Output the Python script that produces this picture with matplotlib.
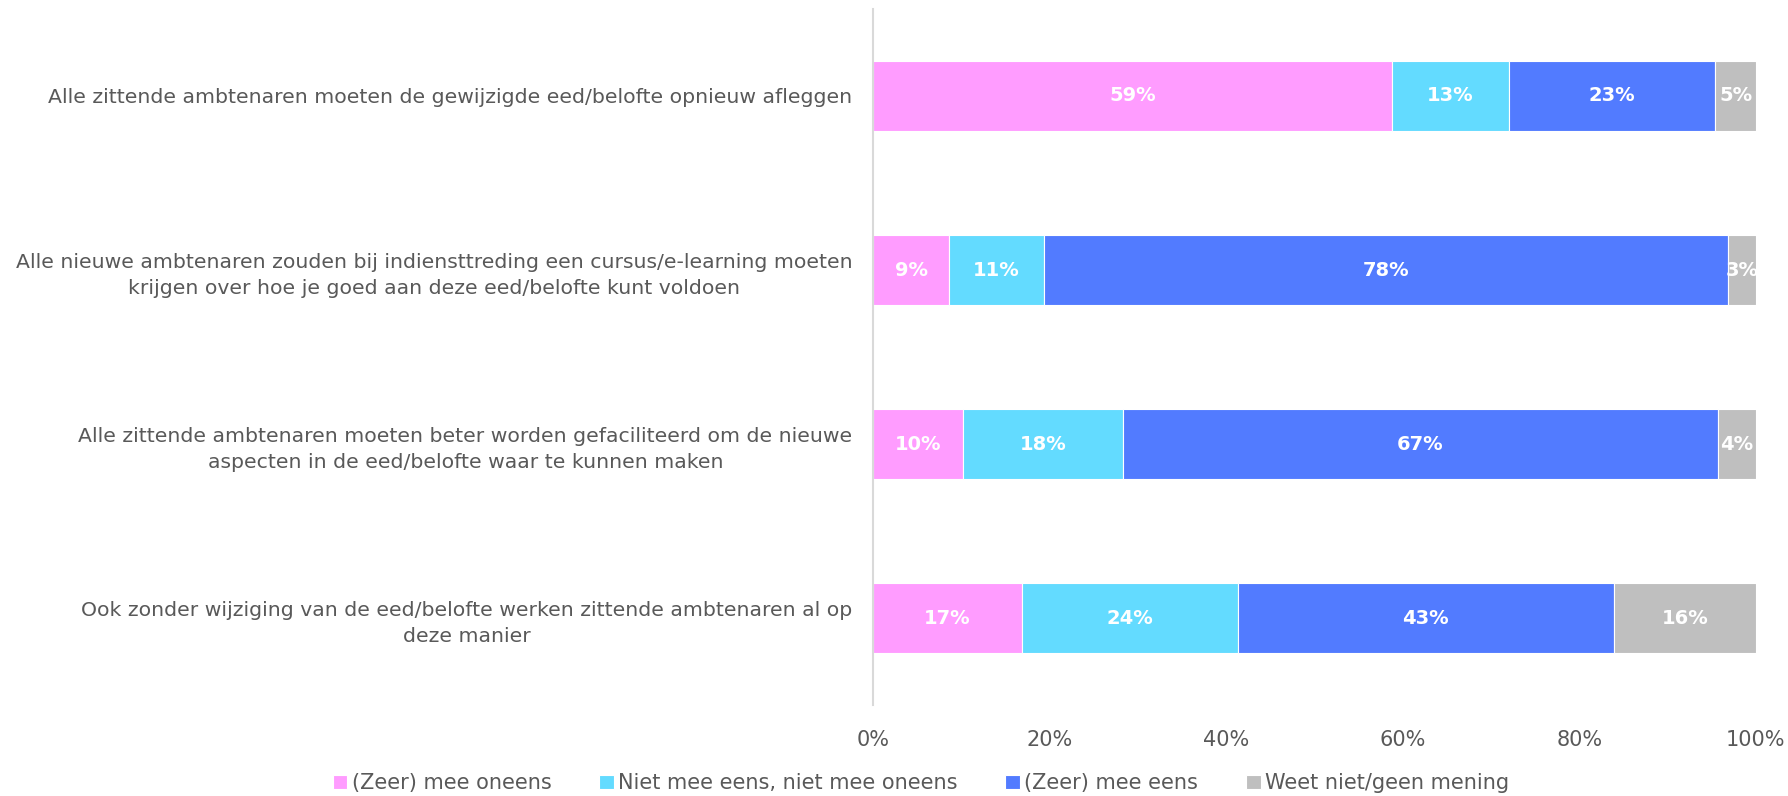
import matplotlib.pyplot as plt
import numpy as np
from matplotlib.ticker import PercentFormatter

# Data (shares in percent)
statements = [
    'Alle zittende ambtenaren moeten de gewijzigde eed/belofte opnieuw afleggen',
    'Alle nieuwe ambtenaren zouden bij indiensttreding een cursus/e-learning moeten\nkrijgen over hoe je goed aan deze eed/belofte kunt voldoen',
    'Alle zittende ambtenaren moeten beter worden gefaciliteerd om de nieuwe\naspecten in de eed/belofte waar te kunnen maken',
    'Ook zonder wijziging van de eed/belofte werken zittende ambtenaren al op\ndeze manier',
]
series_names = ['(Zeer) mee oneens', 'Niet mee eens, niet mee oneens',
                '(Zeer) mee eens', 'Weet niet/geen mening']
oneens = [58.8, 8.6, 10.1, 16.8]
neutraal = [13.2, 10.7, 18.2, 24.5]
eens = [23.4, 77.5, 67.4, 42.6]
weet_niet = [4.6, 3.2, 4.3, 16.1]
colors = ['#FF9CFF', '#63DBFF', '#527BFF', '#BFBFBF']

text_col = '#595959'
plt.rcParams['font.family'] = ['DejaVu Sans']

fig = plt.figure(figsize=(17.88, 7.96), dpi=100)
ax = fig.add_axes([0.4885, 0.1143, 0.4935, 0.8744])

y = np.arange(len(statements))
left = np.zeros(len(statements))
for name, vals, col in zip(series_names, [oneens, neutraal, eens, weet_niet], colors):
    vals = np.array(vals)
    bars = ax.barh(y, vals, left=left, height=0.4, color=col, label=name,
                   edgecolor='white', linewidth=0.8)
    for b, v in zip(bars, vals):
        ax.text(b.get_x() + b.get_width() / 2, b.get_y() + b.get_height() / 2,
                f'{round(v):d}%', ha='center', va='center', color='white',
                fontsize=14, fontweight='bold')
    left += vals

ax.set_xlim(0, 100)
ax.set_ylim(3.5, -0.5)
ax.set_yticks(y)
ax.set_yticklabels(statements, fontsize=14.7, color=text_col, ha='right',
                   multialignment='center', linespacing=1.45)
ax.tick_params(axis='y', length=0, pad=15)
ax.set_xticks([0, 20, 40, 60, 80, 100])
ax.xaxis.set_major_formatter(PercentFormatter(decimals=0))
ax.tick_params(axis='x', length=0, labelsize=15, labelcolor=text_col, pad=18)

for s in ['top', 'right', 'bottom']:
    ax.spines[s].set_visible(False)
ax.spines['left'].set_color('#D9D9D9')
ax.spines['left'].set_linewidth(1.5)

fig.legend(loc='lower center', bbox_to_anchor=(0.515, -0.02), ncol=4, frameon=False,
           fontsize=15, labelcolor=text_col, handlelength=0.7, handleheight=0.7,
           handletextpad=0.2, columnspacing=2.3)

plt.savefig('out.png', dpi=100)
